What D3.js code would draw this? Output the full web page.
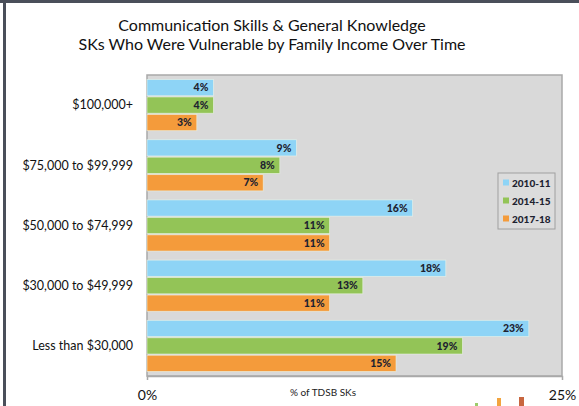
<!DOCTYPE html>
<html>
<head>
<meta charset="utf-8">
<script src="https://cdn.jsdelivr.net/npm/d3@7"></script>
<style>
  html, body { margin: 0; padding: 0; background: #fff; }
  svg { display: block; }
  text { font-family: Lato, "Open Sans", sans-serif; }
</style>
</head>
<body>
<div id="chart"></div>
<script>
// Income bands, top to bottom
const categories = ["$100,000+", "$75,000 to $99,999", "$50,000 to $74,999", "$30,000 to $49,999", "Less than $30,000"];
// School years shown as series
const seriesNames = ["2010-11", "2014-15", "2017-18"];
// Percent of SKs vulnerable, per income band
const values2010 = [4, 9, 16, 18, 23];
const values2014 = [4, 8, 11, 13, 19];
const values2017 = [3, 7, 11, 11, 15];
const seriesValues = [values2010, values2014, values2017];
const xTickLabels = ["0%", "25%"];

const colors = ["#8ed4f6", "#93c457", "#f49b3b"];

const W = 579, H = 406;
const plot = { left: 147, right: 562, top: 75, bottom: 376 };

const svg = d3.select("#chart").append("svg")
  .attr("width", W).attr("height", H);

// outer frame (top and left edges visible)
svg.append("rect").attr("x", 0).attr("y", 0).attr("width", W).attr("height", 3).attr("fill", "#4a4f5a");
svg.append("rect").attr("x", 3).attr("y", 0).attr("width", 3).attr("height", H).attr("fill", "#4a4f5a");

// title
const title = svg.append("text")
  .attr("text-anchor", "middle")
  .attr("font-size", 16)
  .attr("fill", "#111");
title.append("tspan").attr("x", 272).attr("y", 31).text("Communication Skills & General Knowledge");
title.append("tspan").attr("x", 272).attr("y", 50).text("SKs Who Were Vulnerable by Family Income Over Time");

const x = d3.scaleLinear().domain([0, 25]).range([plot.left, plot.right]);
const y = d3.scaleBand().domain(categories).range([plot.top, plot.bottom])
  .paddingInner(0.15).paddingOuter(0.075);
const ySub = d3.scaleBand().domain(seriesNames).range([0, y.bandwidth()]).paddingInner(0.07);

// plot background
svg.append("rect")
  .attr("x", plot.left).attr("y", plot.top)
  .attr("width", plot.right - plot.left).attr("height", plot.bottom - plot.top)
  .attr("fill", "#d9d9d9").attr("stroke", "#a9a9a9").attr("stroke-width", 1.5);

// bars
const rows = [];
categories.forEach((c, i) => {
  seriesNames.forEach((s, j) => rows.push({ cat: c, series: s, j, v: seriesValues[j][i] }));
});

const g = svg.append("g");
g.selectAll("rect.bar").data(rows).join("rect")
  .attr("class", "bar")
  .attr("x", x(0))
  .attr("y", d => y(d.cat) + ySub(d.series))
  .attr("width", d => x(d.v) - x(0))
  .attr("height", ySub.bandwidth())
  .attr("fill", d => colors[d.j])
  .attr("stroke", "#eef6ea").attr("stroke-width", 0.8).attr("stroke-opacity", 0.7);

g.selectAll("text.val").data(rows).join("text")
  .attr("class", "val")
  .attr("x", d => x(d.v) - 5)
  .attr("y", d => y(d.cat) + ySub(d.series) + ySub.bandwidth() / 2)
  .attr("dy", "0.35em")
  .attr("text-anchor", "end")
  .attr("font-size", 10.5).attr("font-weight", 900)
  .attr("fill", "#1d2230")
  .text(d => d.v + "%");

// category labels
svg.selectAll("text.cat").data(categories).join("text")
  .attr("class", "cat")
  .attr("x", 133)
  .attr("y", d => y(d) + y.bandwidth() / 2)
  .attr("dy", "0.35em")
  .attr("text-anchor", "end")
  .attr("font-size", 12.5)
  .attr("fill", "#111")
  .text(d => d);

// x axis: end ticks only
const xAxis = d3.axisBottom(x).tickValues([0, 25]).tickSize(4).tickFormat((d, i) => xTickLabels[i]);
const ax = svg.append("g").attr("transform", `translate(0,${plot.bottom})`).call(xAxis);
ax.select(".domain").attr("stroke", "#a9a9a9").attr("stroke-width", 1.5);
ax.selectAll(".tick line").attr("stroke", "#a9a9a9");
ax.selectAll(".tick text")
  .attr("font-family", "Lato, sans-serif")
  .attr("font-size", 14).attr("fill", "#111").attr("y", 14);

svg.append("text")
  .attr("x", 323).attr("y", 396)
  .attr("text-anchor", "middle")
  .attr("font-size", 10).attr("fill", "#222")
  .text("% of TDSB SKs");

// legend
const lg = svg.append("g").attr("transform", "translate(498,173)");
lg.append("rect").attr("width", 57).attr("height", 56)
  .attr("fill", "#dcdcdc").attr("stroke", "#a0a0a0").attr("stroke-width", 1);
seriesNames.forEach((s, i) => {
  const row = lg.append("g").attr("transform", `translate(5,${10 + i * 18})`);
  row.append("rect").attr("x", 0).attr("y", -3.5).attr("width", 6).attr("height", 6).attr("fill", colors[i]);
  row.append("text").attr("x", 9).attr("dy", "0.35em")
    .attr("font-size", 10).attr("font-weight", 900).attr("fill", "#1d2230").text(s);
});

// small corner mark
const marks = [["#9ccc6a", 475, 403, 3, 3], ["#f2a43f", 497, 398, 4, 8], ["#c8663f", 519, 397, 5, 9]];
svg.selectAll("rect.mark").data(marks).join("rect")
  .attr("class", "mark")
  .attr("x", d => d[1]).attr("y", d => d[2]).attr("width", d => d[3]).attr("height", d => d[4])
  .attr("fill", d => d[0]);
</script>
</body>
</html>
